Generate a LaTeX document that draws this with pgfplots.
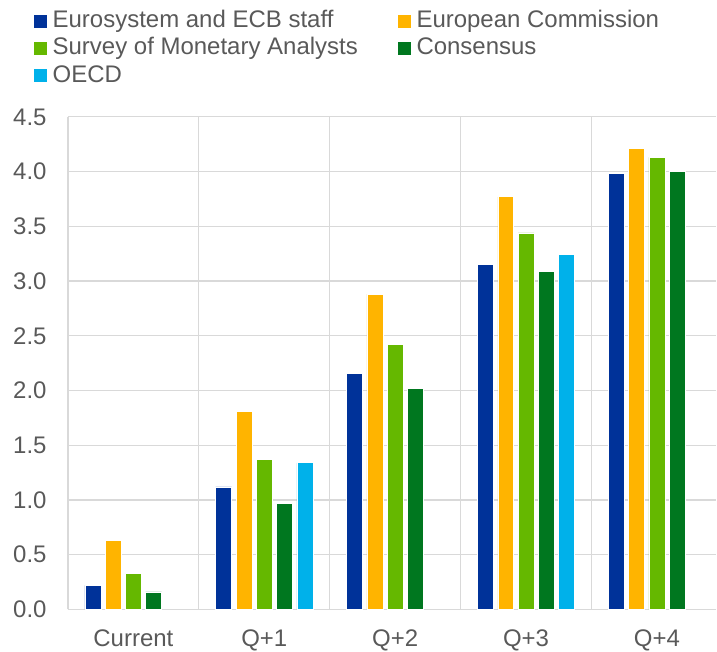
\documentclass[border=0pt]{standalone}
\usepackage{fontspec}
\setmainfont{Liberation Sans}
\usepackage{pgfplots}
\pgfplotsset{compat=1.18}
\definecolor{cBlue}{HTML}{003299}
\definecolor{cOrange}{HTML}{FFB400}
\definecolor{cLGreen}{HTML}{65B800}
\definecolor{cDGreen}{HTML}{00771F}
\definecolor{cLBlue}{HTML}{00B1EA}
\definecolor{cGrid}{HTML}{D9D9D9}
\definecolor{cText}{HTML}{595959}
\begin{document}
\begin{tikzpicture}
\begin{axis}[
  /pgf/number format/assume math mode=true,
  width=324.5pt, height=246.5pt, scale only axis,
  xmin=-0.5, xmax=4.454, ymin=0, ymax=4.5,
  xtick={0,1,2,3,4},
  xticklabels={Current,Q+1,Q+2,Q+3,Q+4},
  minor xtick={0.5,1.5,2.5,3.5},
  xminorgrids=true,
  ytick={0,0.5,...,4.5},
  ymajorgrids=true,
  grid style={cGrid, line width=0.6pt},
  minor grid style={cGrid, line width=0.6pt},
  major tick length=0pt, minor tick length=0pt,
  axis x line*=bottom, axis y line*=left,
  axis line style={cGrid, line width=0.6pt, -},
  tick label style={font=\fontsize{12}{14}\selectfont, text=cText},
  yticklabel style={inner sep=0pt, xshift=-10.5pt, /pgf/number format/fixed, /pgf/number format/fixed zerofill, /pgf/number format/precision=1},
  xticklabel style={inner sep=0pt, yshift=-10pt, anchor=north},
  ybar, bar width=0.122,
  every axis plot/.append style={draw=white, line width=0.3pt},
  clip=false,
  legend columns=2,
  legend cell align=left,
  legend image code/.code={\fill[#1, draw=none] (0pt,-3.2pt) rectangle (6.35pt,3.2pt);},
  legend style={at={(rel axis cs:-0.0524,1.2215)}, anchor=north west, draw=none, fill=none,
    inner sep=0pt, outer sep=0pt,
    font=\fontsize{12}{14}\selectfont, text=cText,
    nodes={inner sep=1pt, text height=9pt, text depth=2.6pt},
    /tikz/every odd column/.append style={column sep=2pt},
    /tikz/every even column/.append style={column sep=19pt}},
]
\addplot[fill=cBlue, bar shift=-0.31] coordinates {(0,0.22) (1,1.12) (2,2.16) (3,3.15) (4,3.98)};
\addplot[fill=cOrange, bar shift=-0.155] coordinates {(0,0.63) (1,1.81) (2,2.88) (3,3.77) (4,4.21)};
\addplot[fill=cLGreen, bar shift=0] coordinates {(0,0.33) (1,1.37) (2,2.42) (3,3.44) (4,4.13)};
\addplot[fill=cDGreen, bar shift=0.155] coordinates {(0,0.16) (1,0.97) (2,2.02) (3,3.09) (4,4.00)};
\addplot[fill=cLBlue, bar shift=0.31] coordinates {(1,1.34) (3,3.24)};
\legend{Eurosystem and ECB staff, European Commission, Survey of Monetary Analysts, Consensus, OECD}
\path[draw=none] (rel axis cs:-0.1048,-0.0791) rectangle (rel axis cs:1,1.2373);
\end{axis}
\end{tikzpicture}
\end{document}
